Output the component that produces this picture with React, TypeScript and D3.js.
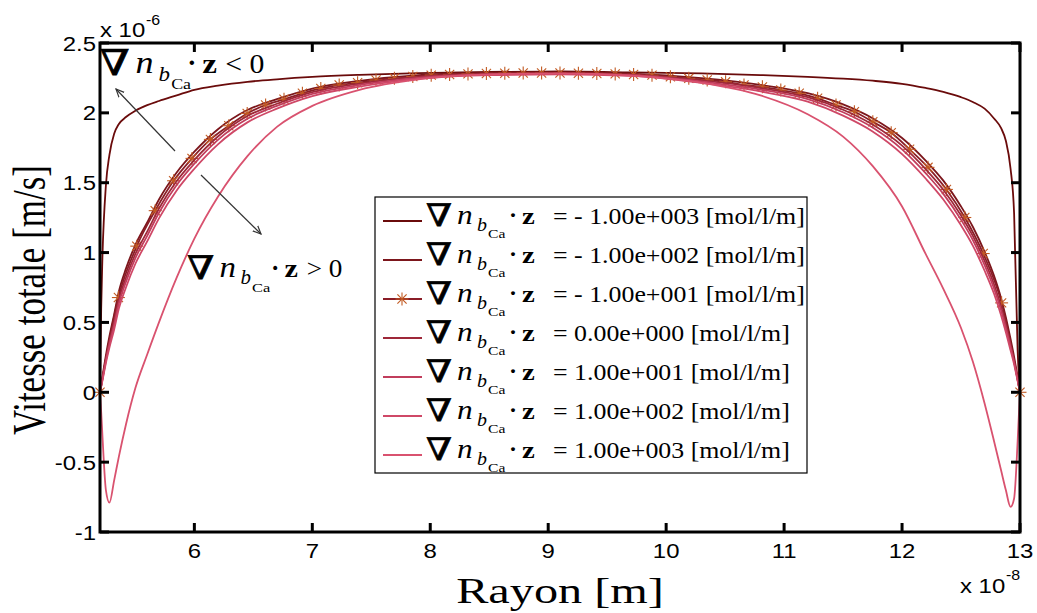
import React from 'react';
import * as d3 from 'd3';

// ---------- DATA ----------
const xGrid = [5.2, 5.21, 5.22, 5.25, 5.28, 5.32, 5.36, 5.42, 5.5, 5.6, 5.7, 5.85, 6.0, 6.2, 6.45, 6.7, 7.0, 7.4, 7.9, 8.5, 9.1, 9.7, 10.3, 10.8, 11.2, 11.5, 11.75, 12.0, 12.2, 12.35, 12.5, 12.6, 12.7, 12.78, 12.84, 12.88, 12.92, 12.95, 12.98, 12.99, 13.0];

const vNeg1000 = [0, 0.6, 0.95, 1.48, 1.7, 1.85, 1.92, 1.97, 2.015, 2.055, 2.085, 2.125, 2.165, 2.195, 2.222, 2.24, 2.257, 2.272, 2.285, 2.293, 2.296, 2.29, 2.282, 2.27, 2.258, 2.245, 2.23, 2.208, 2.178, 2.15, 2.112, 2.078, 2.03, 1.96, 1.89, 1.8, 1.6, 1.28, 0.3, 0.12, 0];
const vNeg100 = [0, 0.054, 0.107, 0.264, 0.401, 0.558, 0.722, 0.885, 1.055, 1.215, 1.38, 1.573, 1.722, 1.883, 2.02, 2.098, 2.174, 2.229, 2.27, 2.286, 2.289, 2.28, 2.248, 2.2, 2.141, 2.061, 1.962, 1.82, 1.658, 1.515, 1.33, 1.185, 1.005, 0.833, 0.672, 0.538, 0.381, 0.254, 0.107, 0.054, 0];
const vZero = [0, 0.047, 0.094, 0.238, 0.362, 0.506, 0.663, 0.82, 0.99, 1.15, 1.315, 1.512, 1.663, 1.831, 1.978, 2.065, 2.148, 2.209, 2.257, 2.278, 2.282, 2.272, 2.232, 2.178, 2.112, 2.022, 1.916, 1.765, 1.597, 1.45, 1.265, 1.12, 0.94, 0.772, 0.613, 0.486, 0.342, 0.228, 0.094, 0.047, 0];
const vPos10 = [0, 0.044, 0.088, 0.226, 0.344, 0.482, 0.636, 0.79, 0.96, 1.12, 1.285, 1.483, 1.636, 1.807, 1.958, 2.05, 2.136, 2.2, 2.251, 2.275, 2.279, 2.269, 2.224, 2.167, 2.098, 2.004, 1.895, 1.739, 1.568, 1.42, 1.235, 1.09, 0.91, 0.743, 0.586, 0.462, 0.324, 0.216, 0.088, 0.044, 0];
const vPos100 = [0, 0.04, 0.08, 0.21, 0.32, 0.45, 0.6, 0.75, 0.92, 1.08, 1.245, 1.445, 1.6, 1.775, 1.932, 2.03, 2.12, 2.188, 2.243, 2.27, 2.275, 2.264, 2.214, 2.153, 2.08, 1.98, 1.867, 1.705, 1.53, 1.38, 1.195, 1.05, 0.87, 0.705, 0.55, 0.43, 0.3, 0.2, 0.08, 0.04, 0];
const vPos1000 = [0, -0.14, -0.3, -0.7, -0.79, -0.63, -0.46, -0.23, 0.03, 0.27, 0.5, 0.82, 1.1, 1.4, 1.69, 1.9, 2.05, 2.165, 2.24, 2.275, 2.283, 2.266, 2.215, 2.125, 1.99, 1.83, 1.62, 1.33, 0.99, 0.74, 0.46, 0.22, -0.08, -0.35, -0.56, -0.7, -0.82, -0.76, -0.35, -0.17, 0];

// series with asterisk markers (gradient = -10)
const xMarked = [5.2, 5.356, 5.512, 5.668, 5.824, 5.98, 6.136, 6.292, 6.448, 6.604, 6.76, 6.916, 7.072, 7.228, 7.384, 7.54, 7.696, 7.852, 8.008, 8.164, 8.32, 8.476, 8.632, 8.788, 8.944, 9.1, 9.256, 9.412, 9.568, 9.724, 9.88, 10.036, 10.192, 10.348, 10.504, 10.66, 10.816, 10.972, 11.128, 11.284, 11.44, 11.596, 11.752, 11.908, 12.064, 12.22, 12.376, 12.532, 12.688, 12.844, 13.0];
const vNeg10 = [0, 0.678, 1.046, 1.3, 1.514, 1.674, 1.81, 1.908, 1.996, 2.056, 2.097, 2.14, 2.175, 2.199, 2.216, 2.235, 2.247, 2.26, 2.27, 2.275, 2.279, 2.282, 2.284, 2.285, 2.285, 2.285, 2.284, 2.282, 2.279, 2.275, 2.27, 2.258, 2.247, 2.235, 2.222, 2.2, 2.186, 2.163, 2.14, 2.104, 2.056, 2.008, 1.936, 1.858, 1.739, 1.61, 1.452, 1.251, 0.993, 0.64, 0];

const legendLabels = [
  '= - 1.00e+003 [mol/l/m]',
  '= - 1.00e+002 [mol/l/m]',
  '= - 1.00e+001 [mol/l/m]',
  '= 0.00e+000 [mol/l/m]',
  '= 1.00e+001 [mol/l/m]',
  '= 1.00e+002 [mol/l/m]',
  '= 1.00e+003 [mol/l/m]',
];
const seriesColors = ['#6a0b0b', '#7c161c', '#8a1d27', '#9e2839', '#c13d5c', '#cf4867', '#d9526f'];
const markerColor = '#c25a22';

const xTicks = [6, 7, 8, 9, 10, 11, 12, 13];
const yTicks = [-1, -0.5, 0, 0.5, 1, 1.5, 2, 2.5];
const yTickLabels = ['-1', '-0.5', '0', '0.5', '1', '1.5', '2', '2.5'];

const xTitle = 'Rayon [m]';
const yTitle = 'Vitesse totale [m/s]';

// ---------- LAYOUT ----------
const W = 1037;
const H = 613;
const L = 100, R = 1020, T = 43, B = 532;
const SANS = "'Liberation Sans', Arial, sans-serif";
const SERIF = "'Liberation Serif', 'Times New Roman', serif";

function Asterisk({ cx, cy, r, color }: { cx: number; cy: number; r: number; color: string }) {
  const d = r * 0.707;
  return (
    <g stroke={color} strokeWidth={1.1}>
      <line x1={cx - r} y1={cy} x2={cx + r} y2={cy} />
      <line x1={cx} y1={cy - r} x2={cx} y2={cy + r} />
      <line x1={cx - d} y1={cy - d} x2={cx + d} y2={cy + d} />
      <line x1={cx - d} y1={cy + d} x2={cx + d} y2={cy - d} />
    </g>
  );
}

function NablaExpr({ x, y, s, zdx, tdx, tail }: { x: number; y: number; s: number; zdx: number; tdx: number; tail: string }) {
  return (
    <g transform={`translate(${x},${y}) scale(${s})`} fill="#000">
      <text transform="translate(-1,2) scale(1.2,1)" fontFamily="'DejaVu Serif'" fontSize={31} stroke="#000" strokeWidth={0.7}>∇</text>
      <text transform="translate(30,0) scale(1.12,1)" fontFamily={SERIF} fontStyle="italic" fontSize={28}>n</text>
      <text transform="translate(50,7) scale(1.05,1)" fontFamily={SERIF} fontStyle="italic" fontSize={19}>b</text>
      <text transform="translate(61,14) scale(1.3,1)" fontFamily={SERIF} fontSize={12}>Ca</text>
      <text transform={`translate(${zdx - 13},-1)`} fontFamily={SERIF} fontWeight="bold" fontSize={24}>·</text>
      <text transform={`translate(${zdx},0) scale(1.2,1)`} fontFamily={SERIF} fontWeight="bold" fontSize={24}>z</text>
      <text transform={`translate(${tdx},0) scale(1.125,1)`} fontFamily={SERIF} fontSize={23}>{tail}</text>
    </g>
  );
}

export default function App() {
  const x = d3.scaleLinear().domain([5.2, 13]).range([L, R]);
  const y = d3.scaleLinear().domain([-1, 2.5]).range([B, T]);

  const gridSeries = [vNeg1000, vNeg100, null, vZero, vPos10, vPos100, vPos1000];
  const line = d3
    .line<[number, number]>()
    .x((d) => x(d[0]))
    .y((d) => y(d[1]))
    .curve(d3.curveMonotoneX);

  const paths = gridSeries.map((vals) => {
    if (vals === null) {
      return line(xMarked.map((xv, j) => [xv, vNeg10[j]] as [number, number])) as string;
    }
    return line(xGrid.map((xv, j) => [xv, vals[j]] as [number, number])) as string;
  });

  const rowY = [221, 260, 299, 338, 377, 416, 455];

  return (
    <svg width={W} height={H} style={{ position: 'absolute', left: 0, top: 0, background: '#fff' }}>
      <defs>
        <marker id="ah" viewBox="0 0 10 10" refX="9" refY="5" markerWidth="9" markerHeight="9" markerUnits="userSpaceOnUse" orient="auto">
          <path d="M0,1 L9,5 L0,9" fill="none" stroke="#333" strokeWidth={1.3} />
        </marker>
      </defs>
      <rect x={0} y={0} width={W} height={H} fill="#fff" />

      {/* curves */}
      {paths.map((p, i) => (
        <g key={i}>
          <path d={p} fill="none" stroke={seriesColors[i]} strokeWidth={1.8} />
          {i === 2 &&
            xMarked.map((xv, j) => (
              <Asterisk key={j} cx={x(xv)} cy={y(vNeg10[j])} r={6.5} color={markerColor} />
            ))}
        </g>
      ))}

      {/* axes box */}
      <rect x={L} y={T} width={R - L} height={B - T} fill="none" stroke="#000" strokeWidth={3} />
      {xTicks.map((t) => (
        <g key={'xt' + t} stroke="#000" strokeWidth={3}>
          <line x1={x(t)} x2={x(t)} y1={B} y2={B - 9} />
          <line x1={x(t)} x2={x(t)} y1={T} y2={T + 9} />
        </g>
      ))}
      {yTicks.map((t) => (
        <g key={'yt' + t} stroke="#000" strokeWidth={3}>
          <line x1={L} x2={L + 9} y1={y(t)} y2={y(t)} />
          <line x1={R} x2={R - 9} y1={y(t)} y2={y(t)} />
        </g>
      ))}
      {xTicks.map((t) => (
        <text key={'xl' + t} transform={`translate(${x(t)},558) scale(1.14,1)`} textAnchor="middle" fontFamily={SANS} fontSize={21}>
          {t}
        </text>
      ))}
      {yTicks.map((t, i) => (
        <text key={'yl' + t} transform={`translate(96,${y(t) + 7.5}) scale(1.14,1)`} textAnchor="end" fontFamily={SANS} fontSize={21}>
          {yTickLabels[i]}
        </text>
      ))}
      {/* exponents */}
      <text transform="translate(100,37) scale(1.14,1)" fontFamily={SANS} fontSize={21}>x 10</text>
      <text transform="translate(146,25) scale(1.14,1)" fontFamily={SANS} fontSize={14}>-6</text>
      <text transform="translate(960,593) scale(1.14,1)" fontFamily={SANS} fontSize={21}>x 10</text>
      <text transform="translate(1006,580) scale(1.14,1)" fontFamily={SANS} fontSize={14}>-8</text>

      {/* titles */}
      <text transform="translate(45,300) scale(1.34,1) rotate(-90)" textAnchor="middle" fontFamily={SERIF} fontSize={35}>
        {yTitle}
      </text>
      <text transform="translate(560,603) scale(1.34,1)" textAnchor="middle" fontFamily={SERIF} fontSize={36}>
        {xTitle}
      </text>

      {/* annotations */}
      <NablaExpr x={101} y={73} s={1.15} zdx={88} tdx={108} tail="< 0" />
      <NablaExpr x={188} y={277} s={1.05} zdx={92} tdx={113} tail="> 0" />
      <line x1={175} y1={151} x2={116} y2={89} stroke="#333" strokeWidth={1.2} markerEnd="url(#ah)" />
      <line x1={201} y1={175} x2={261} y2={234} stroke="#333" strokeWidth={1.2} markerEnd="url(#ah)" />

      {/* legend */}
      <rect x={375} y={197} width={432} height={276} fill="#fff" stroke="#000" strokeWidth={1.2} />
      {legendLabels.map((lab, i) => (
        <g key={'lg' + i}>
          <line x1={383} x2={422} y1={rowY[i]} y2={rowY[i]} stroke={seriesColors[i]} strokeWidth={1.8} />
          {i === 2 && <Asterisk cx={402} cy={rowY[i]} r={6.5} color={markerColor} />}
          <NablaExpr x={427} y={rowY[i] + 3} s={1} zdx={95} tdx={126} tail={lab} />
        </g>
      ))}
    </svg>
  );
}
